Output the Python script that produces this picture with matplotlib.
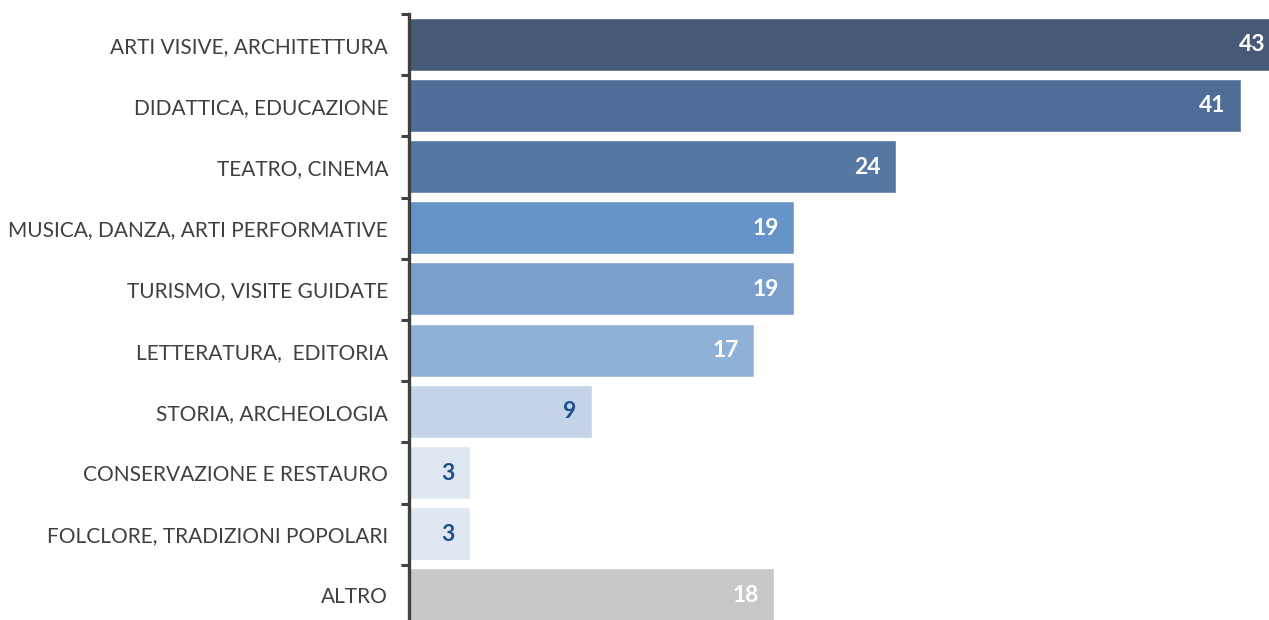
import matplotlib
matplotlib.use("Agg")
from matplotlib import pyplot as plt
from matplotlib.ticker import FixedLocator

categories = ["ARTI VISIVE, ARCHITETTURA", "DIDATTICA, EDUCAZIONE", "TEATRO, CINEMA",
	"MUSICA, DANZA, ARTI PERFORMATIVE", "TURISMO, VISITE GUIDATE", "LETTERATURA,  EDITORIA",
	"STORIA, ARCHEOLOGIA", "CONSERVAZIONE E RESTAURO", "FOLCLORE, TRADIZIONI POPOLARI", "ALTRO"]
values = [43, 41, 24, 19, 19, 17, 9, 3, 3, 18]
bar_colors = ["#465a78", "#4e6e98", "#5577a3", "#6694c8", "#7a9fcd", "#8fb0d7",
	"#c3d4e9", "#dfe7f3", "#dfe7f3", "#c8c8c8"]
label_colors = ["white"] * 6 + ["#1f4e8c"] * 3 + ["white"]

plt.rcParams['font.family'] = ['Lato', 'DejaVu Sans']

fig = plt.figure(figsize=(12.69, 6.2), dpi=100)
ax = fig.add_axes([409 / 1269, 0, 1 - 409 / 1269, 1 - 14 / 620])

ypos = list(range(len(categories)))
ax.barh(ypos, values, height=0.85, color=bar_colors, edgecolor="white", linewidth=0.3)

for y, v, c in zip(ypos, values, label_colors):
	ax.text(v - 0.75, y, str(v), ha="right", va="center", color=c,
		fontsize=16.5, fontweight="bold")

ax.set_xlim(0, 42.4)
ax.set_ylim(-0.5 + 606 / 61.2, -0.5)

ax.set_yticks(ypos)
ax.set_yticklabels(categories, fontsize=15, color="#404040")
ax.tick_params(axis="y", which="major", length=0, pad=15)
ax.yaxis.set_minor_locator(FixedLocator([k - 0.5 for k in range(len(categories) + 1)]))
ax.tick_params(axis="y", which="minor", length=6, width=2.2, color="#404040", direction="out")
ax.set_xticks([])

for side in ["top", "right", "bottom"]:
	ax.spines[side].set_visible(False)
ax.spines["left"].set_linewidth(2.4)
ax.spines["left"].set_color("#404040")

fig.savefig("out.png", dpi=100)
